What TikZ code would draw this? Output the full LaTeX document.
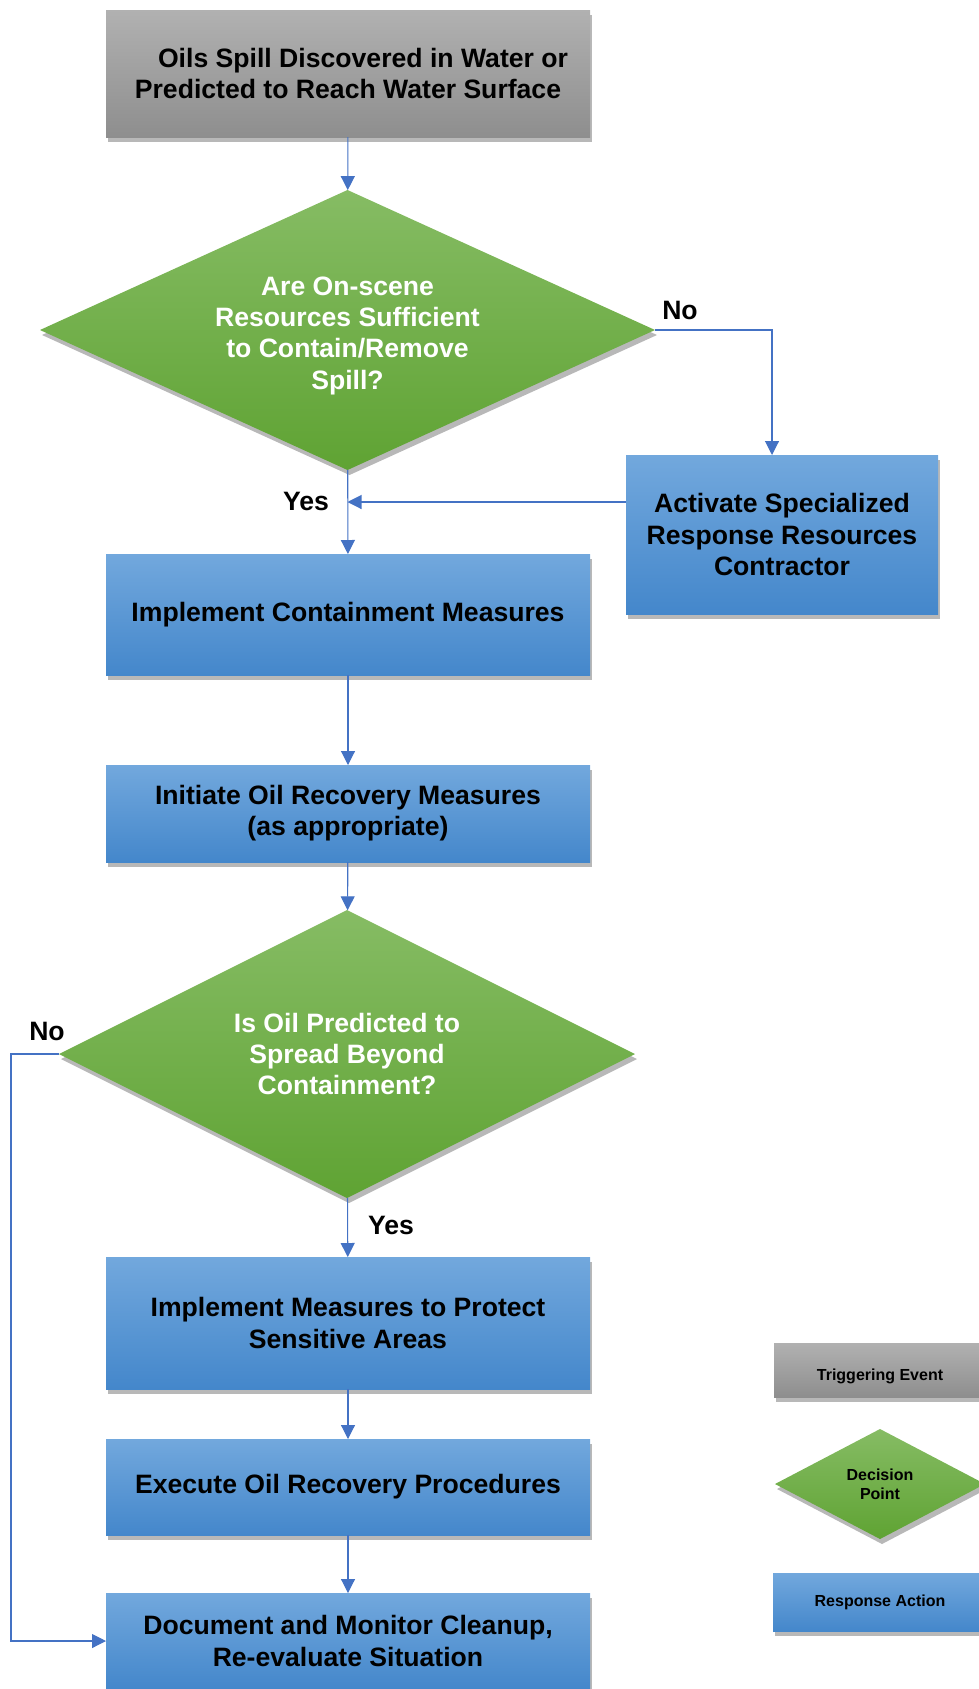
\documentclass[tikz,border=0pt]{standalone}
\usepackage{fontspec}
\setmainfont{Liberation Sans}
\usetikzlibrary{arrows.meta, shapes.geometric, shadows, calc, positioning}

\definecolor{flowline}{HTML}{4472C4}
\definecolor{trigtop}{HTML}{B1B1B1}
\definecolor{trigbot}{HTML}{8E8E8E}
\definecolor{dectop}{HTML}{86BC64}
\definecolor{decbot}{HTML}{5FA333}
\definecolor{acttop}{HTML}{72A8DD}
\definecolor{actbot}{HTML}{4487CB}

\tikzset{
	shade/.style={drop shadow={shadow xshift=2pt, shadow yshift=-5pt, fill=black, opacity=0.28}},
	trigbox/.style={rectangle, shade, top color=trigtop, bottom color=trigbot, align=center},
	decbox/.style={diamond, shade, top color=dectop, bottom color=decbot, text=white, align=center, aspect=2.2},
	actbox/.style={rectangle, shade, top color=acttop, bottom color=actbot, align=center},
	flow/.style={draw=flowline, line width=1.1pt},
	lbl/.style={text=black},
	legend/.style={font=\bfseries\fontsize{16}{19}\selectfont, text=black}
}

\begin{document}
\begin{tikzpicture}[x=1pt, y=-1pt, >={Triangle[length=14pt,width=14pt]},
	every node/.style={font=\bfseries\fontsize{26.6}{31.2}\selectfont, inner sep=0pt, outer sep=0pt}]
	\useasboundingbox (0,0) rectangle (978,1689);

	% main column
	\node[trigbox, minimum width=484pt, minimum height=127pt] (spill) at (348,73.5) {\hspace*{30pt}Oils Spill Discovered in Water or\\Predicted to Reach Water Surface};
	\node[decbox, minimum width=615pt, minimum height=280pt] (dec1) at (347.5,330) {\rule{0pt}{30pt}Are On-scene\\Resources Sufficient\\to Contain/Remove\\Spill?};
	\node[actbox, minimum width=312pt, minimum height=159pt] (act) at (782,534.5) {Activate Specialized\\Response Resources\\Contractor};
	\node[actbox, minimum width=484pt, minimum height=121pt] (cont) at (348,614.5) {Implement Containment Measures};
	\node[actbox, minimum width=484pt, minimum height=97pt] (init) at (348,813.5) {Initiate Oil Recovery Measures\\(as appropriate)};
	\node[decbox, minimum width=576pt, minimum height=288pt] (dec2) at (347,1054) {Is Oil Predicted to\\Spread Beyond\\Containment?};
	\node[actbox, minimum width=484pt, minimum height=132pt] (prot) at (348,1323) {Implement Measures to Protect\\Sensitive Areas};
	\node[actbox, minimum width=484pt, minimum height=96pt] (exec) at (348,1487) {Execute Oil Recovery Procedures};
	\node[actbox, minimum width=484pt, minimum height=96pt] (doc) at (348,1641) {Document and Monitor Cleanup,\\Re-evaluate Situation};

	% legend
	\node[trigbox, legend, minimum width=212pt, minimum height=54pt] (legtrig) at (880,1370) {\raisebox{-10pt}[0pt][0pt]{Triggering Event}};
	\node[decbox, legend, minimum width=210pt, minimum height=110pt] (legdec) at (880,1484) {Decision\\Point};
	\node[actbox, legend, minimum width=214pt, minimum height=58pt] (legact) at (880,1602) {Response Action};

	% connectors
	\coordinate (actin) at ($(act.north)+(-10,0)$);
	\coordinate (actout) at ($(act.north west)+(0,47)$);
	\coordinate (nocorner) at (11,0);
	\foreach \a/\b in {spill/dec1, dec1/cont, cont/init, init/dec2, dec2/prot, prot/exec, exec/doc}
		\draw[flow,->] (\a) -- (\b);
	\draw[flow,->] (dec1.east) -- (dec1.east -| actin) -- (actin);
	\draw[flow,->] (actout) -- (actout -| dec1.south);
	\draw[flow,->] (dec2.west) -- (nocorner |- dec2.west) |- (doc.west);

	\node[lbl] (no1) at (680,310) {No};
	\node[lbl] (yes1) at (306,501) {Yes};
	\node[lbl] (no2) at (47,1031) {No};
	\node[lbl] (yes2) at (391,1225) {Yes};
\end{tikzpicture}
\end{document}
